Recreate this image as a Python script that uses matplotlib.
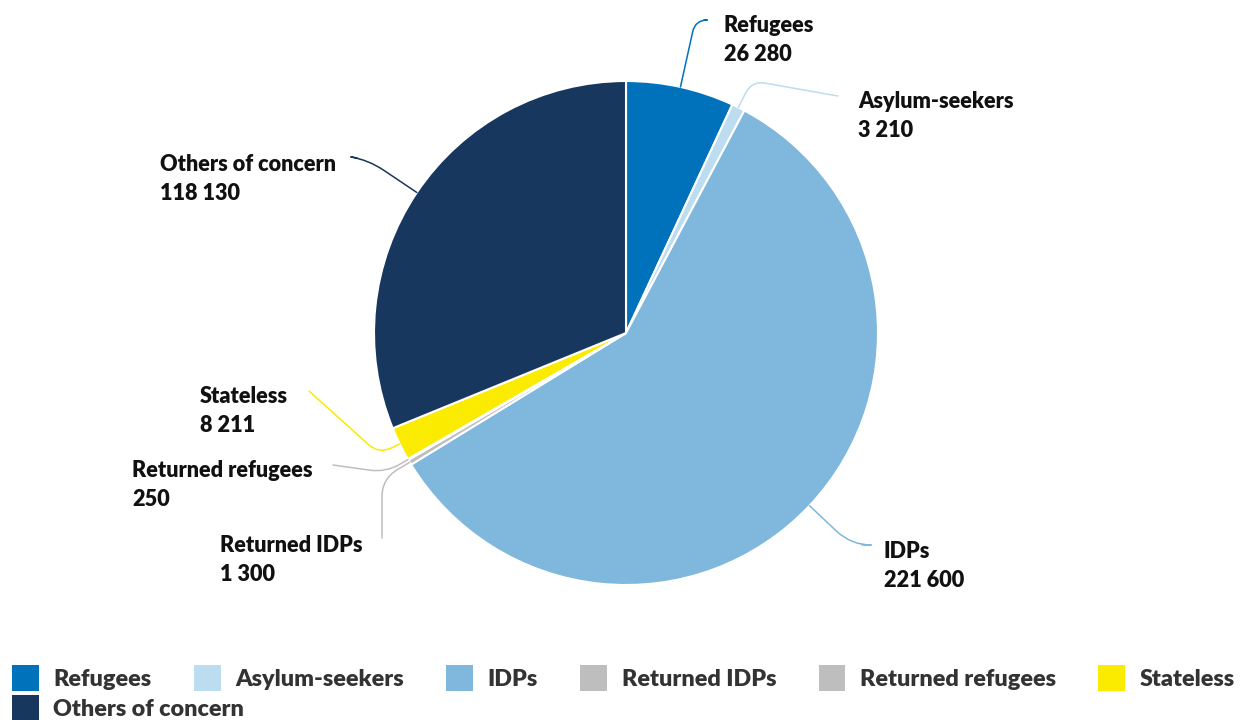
import numpy as np
import matplotlib.pyplot as plt

plt.rcParams['font.family'] = ['Lato', 'DejaVu Sans']

categories = ["Refugees", "Asylum-seekers", "IDPs", "Returned IDPs",
              "Returned refugees", "Stateless", "Others of concern"]
values = [26280, 3210, 221600, 1300, 250, 8211, 118130]
colors = ["#0072BC", "#BCDCEF", "#80B7DC", "#BEBEBE", "#BEBEBE", "#FAEB00", "#18375F"]

W, H = 1249, 720


def px(x, y):
    # pixel coords (top-left origin) -> data coords
    return (x, H - y)


# label layout: text x, first-line baseline y, connector end (x, y), angleA, rad
label_pos = {
    "Refugees": (724, 32, (704, 20), 0, 12),
    "Asylum-seekers": (858, 108, (838, 96), -10, 14),
    "IDPs": (884, 558, (862, 545), 0, 20),
    "Returned IDPs": (220, 552, (382, 538), 90, 18),
    "Returned refugees": (132, 477, (333, 465), -8, 16),
    "Stateless": (200, 403, (309, 391), -42, 14),
    "Others of concern": (160, 171, (357, 158), -10, 18),
}

fig = plt.figure(figsize=(W / 100, H / 100), dpi=100)
ax = fig.add_axes([0, 0, 1, 1])

wedges, _ = ax.pie(values, colors=colors, startangle=90, counterclock=False,
                   center=px(626, 333), radius=252, frame=True,
                   wedgeprops=dict(edgecolor='white', linewidth=1.5))
ax.set_xlim(0, W)
ax.set_ylim(0, H)
ax.set_aspect('equal')
ax.axis('off')

for w, name, val, col in zip(wedges, categories, values, colors):
    tx, ty, end, angA, rad = label_pos[name]
    mid = np.deg2rad((w.theta1 + w.theta2) / 2)
    cx, cy = w.center
    edge = (cx + w.r * np.cos(mid), cy + w.r * np.sin(mid))
    angB = np.rad2deg(mid)
    ax.annotate("", xy=edge, xytext=px(*end),
                arrowprops=dict(arrowstyle='-', color=col, lw=1.1,
                                shrinkA=0, shrinkB=0,
                                connectionstyle=f"angle,angleA={angA},angleB={angB:.2f},rad={rad}"))
    ax.text(*px(tx, ty), name, fontsize=15.6, fontweight='heavy', color='#111111',
            ha='left', va='baseline')
    ax.text(*px(tx, ty + 29), f"{val:,}".replace(",", " "), fontsize=15.6,
            fontweight='heavy', color='#111111', ha='left', va='baseline')

# legend: first row with six entries, second row with the last
lkw = dict(frameon=False, handlelength=1.15, handleheight=1.32,
           handletextpad=0.62, columnspacing=1.82, borderpad=0, borderaxespad=0,
           loc='upper left', prop=dict(weight='heavy', size=16.8))
leg1 = fig.legend(wedges[:6], categories[:6], ncol=6,
                  bbox_to_anchor=(12 / W, 1 - 665 / H), **lkw)
leg2 = fig.legend(wedges[6:], categories[6:], ncol=1,
                  bbox_to_anchor=(12 / W, 1 - 695 / H), **lkw)
for leg in (leg1, leg2):
    for t in leg.get_texts():
        t.set_color('#333333')
    for h in leg.legend_handles:
        h.set_linewidth(0)

fig.savefig("out.png", dpi=100)
